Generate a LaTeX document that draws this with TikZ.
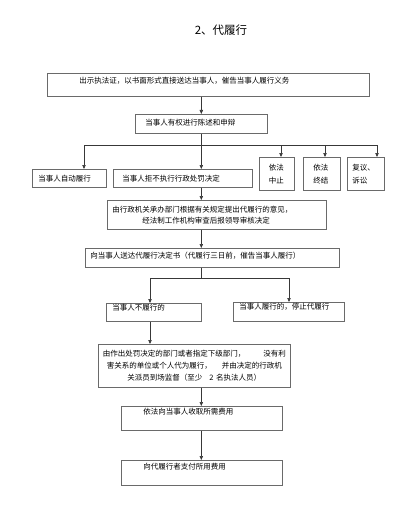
\documentclass[tikz,border=0pt]{standalone}
\usepackage{fontspec}
\newfontfamily\cjk{Noto Sans CJK SC}
\usetikzlibrary{arrows.meta,positioning}
\definecolor{boxline}{HTML}{6A6A6A}
\definecolor{linkline}{HTML}{383838}

\begin{document}
\begin{tikzpicture}[x=1pt,y=-1pt,>={Triangle[length=4pt,width=3.4pt]},every node/.style={font=\cjk\fontsize{7.5}{11}\selectfont},box/.style={draw=boxline,line width=0.6pt,anchor=north west,align=left,inner ysep=0pt},link/.style={draw=linkline,line width=0.6pt}]
\useasboundingbox (0,0) rectangle (406,516);
\node[font=\cjk\fontsize{11.5}{14}\selectfont] (title) at (221,30) {2、代履行};
% top boxes
\node[box,inner xsep=32pt,text width=258pt,text height=9.85pt,text depth=13.15pt] (notice) at (47,73) {出示执法证，以书面形式直接送达当事人，催告当事人履行义务};
\node[box,inner xsep=10pt,text width=112pt,text height=10.85pt,text depth=8.15pt] (rights) at (135,114) {当事人有权进行陈述和申辩};
% five outcomes
\node[box,inner xsep=6pt,text width=62pt,minimum height=18pt] (self) at (32,169) {当事人自动履行};
\node[box,inner xsep=9pt,text width=121pt,minimum height=18pt] (refuse) at (113,169) {当事人拒不执行行政处罚决定};
\node[box,inner xsep=9.5pt,text width=16pt,minimum height=33pt,font=\cjk\fontsize{7.5}{13}\selectfont] (halt) at (259,157) {依法\\中止};
\node[box,inner xsep=10pt,text width=17pt,minimum height=33pt,font=\cjk\fontsize{7.5}{13}\selectfont] (close) at (303,157) {依法\\终结};
\node[box,inner xsep=5pt,text width=27pt,minimum height=33pt,font=\cjk\fontsize{7.5}{13}\selectfont] (review) at (347,157) {复议、\\诉讼};
% decision
\node[box,inner xsep=5pt,text width=209pt,minimum height=29pt] (opinion) at (107,200) {由行政机关承办部门根据有关规定提出代履行的意见，\\\hspace*{30pt}经法制工作机构审查后报领导审核决定};
\node[box,inner xsep=5pt,text width=244pt,text height=9.85pt,text depth=9.15pt] (serve) at (85,248) {向当事人送达代履行决定书（代履行三日前，催告当事人履行）};
\node[box,inner xsep=6pt,text width=83pt,text height=6.85pt,text depth=11.15pt] (unpaid) at (106,303) {当事人不履行的};
\node[box,inner xsep=6pt,text width=99pt,text height=6.85pt,text depth=12.15pt] (stopped) at (233,302) {当事人履行的，停止代履行};
\node[box,align=center,inner xsep=1pt,text width=190pt,minimum height=43pt,font=\cjk\fontsize{7.5}{12}\selectfont] (agent) at (98,344) {由作出处罚决定的部门或者指定下级部门，\hspace{18pt}没有利\\害关系的单位或个人代为履行，\hspace{10pt}并由决定的行政机\\关派员到场监督（至少\hspace{7pt}2 名执法人员）};
\node[box,inner xsep=22pt,text width=117pt,text height=7.85pt,text depth=16.15pt] (charge) at (121,406) {依法向当事人收取所需费用};
\node[box,inner xsep=22pt,text width=117pt,text height=8.85pt,text depth=16.15pt] (pay) at (121,460) {向代履行者支付所用费用};
% connectors
\coordinate (busL) at (84,145);
\coordinate (busR) at (377,145);
\coordinate (splitL) at (150,278);
\coordinate (splitR) at (289,278);
\draw[link,->] (notice.south -| rights) -- (rights.north);
\draw[link] (rights.south) -- (rights.south |- busL);
\draw[link] (busL) -- (busR);
\draw[link,->] (busL) -- (busL |- self.north);
\draw[link,->] (rights.south |- busL) -- (refuse.north -| rights);
\foreach \bx/\to in {281/halt,325/close,377/review}
  \draw[link,->] (\bx,145) -- (\bx,145 |- \to.north);
\draw[link,->] (refuse.south -| rights) -- (opinion.north -| rights);
\draw[link,->] (opinion.south -| rights) -- (serve.north -| rights);
\draw[link] (serve.south -| rights) -- (rights |- splitL);
\draw[link] (splitL) -- (splitR);
\draw[link,->] (splitL) -- (splitL |- unpaid.north);
\draw[link,->] (splitR) -- (splitR |- stopped.north);
\draw[link,->] (unpaid.south -| splitL) -- (agent.north -| splitL);
\draw[link,->] (agent.south -| rights) -- (charge.north -| rights);
\draw[link,->] (charge.south -| rights) -- (pay.north -| rights);
\end{tikzpicture}
\end{document}
